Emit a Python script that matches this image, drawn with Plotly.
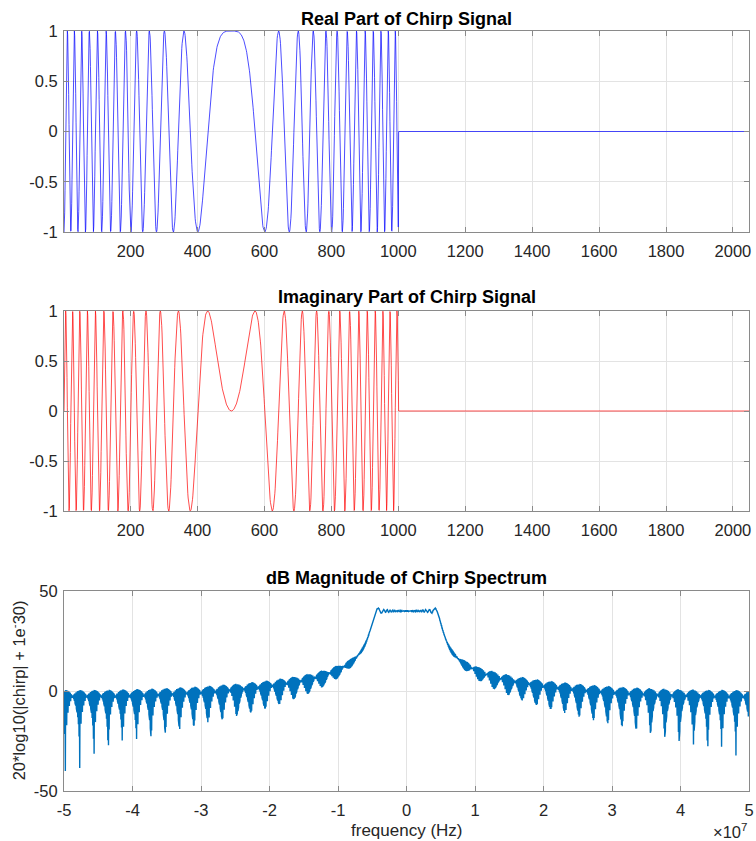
import numpy as np
import plotly.graph_objects as go

# ---- chirp parameters ----
FS = 1e8            # sample rate: frequency axis spans -5e7 .. 5e7 Hz
PULSE_SAMPLES = 1000  # signal is non-zero up to sample ~1000
FFT_LEN = 2048      # sample axis runs to 2048 (zero padded)
SWEEP_BW = 1e7      # spectrum plateau spans about -0.5e7 .. 0.5e7 Hz

# tick labels
sig_xticks = [200, 400, 600, 800, 1000, 1200, 1400, 1600, 1800, 2000]
sig_yticks = [-1, -0.5, 0, 0.5, 1]
sig_yticktext = ["-1", "-0.5", "0", "0.5", "1"]
freq_ticks_e7 = [-5, -4, -3, -2, -1, 0, 1, 2, 3, 4, 5]
freq_ticktext = ["-5", "-4", "-3", "-2", "-1", "0", "1", "2", "3", "4", "5"]
db_ticks = [-50, 0, 50]
db_ticktext = ["-50", "0", "50"]

titles = ["Real Part of Chirp Signal", "Imaginary Part of Chirp Signal",
          "dB Magnitude of Chirp Spectrum"]

# ---- signal (linear FM pulse, zero padded) ----
T = PULSE_SAMPLES / FS
mu = SWEEP_BW / T
n = np.arange(PULSE_SAMPLES)
t = (n - PULSE_SAMPLES / 2) / FS
pulse = np.exp(1j * np.pi * mu * t ** 2)
chirp = np.zeros(FFT_LEN, dtype=complex)
chirp[:PULSE_SAMPLES] = pulse
idx = np.arange(1, FFT_LEN + 1)

spec = np.fft.fftshift(np.fft.fft(chirp))
freq = (np.arange(FFT_LEN) - FFT_LEN / 2) * FS / FFT_LEN
spec_db = 20 * np.log10(np.abs(spec) + 1e-30)

FONT = "Liberation Sans, Arial, sans-serif"
TXT = "#262626"
AXC = "#8a8a8a"
GRID = "#e3e3e3"

fig = go.Figure()
fig.add_trace(go.Scatter(x=idx, y=chirp.real, mode="lines",
                         line=dict(color="#0000ff", width=0.7),
                         xaxis="x", yaxis="y", showlegend=False))
fig.add_trace(go.Scatter(x=idx, y=chirp.imag, mode="lines",
                         line=dict(color="#ff0000", width=0.7),
                         xaxis="x2", yaxis="y2", showlegend=False))
fig.add_trace(go.Scatter(x=freq, y=spec_db, mode="lines",
                         line=dict(color="#0072BD", width=1.4),
                         xaxis="x3", yaxis="y3", showlegend=False))

H = 841
MT, MB = 31, 50
PH = H - MT - MB


def py(px):
    return (H - MB - px) / PH


common = dict(showline=True, linecolor=AXC, linewidth=1, mirror="ticks",
              ticks="inside", ticklen=5, tickcolor=AXC, showgrid=True,
              gridcolor=GRID, gridwidth=1, zeroline=False,
              ticklabeloverflow="allow",
              tickfont=dict(family=FONT, size=16.5, color=TXT))

domains = [(py(232), 1.0), (py(511), py(311)), (0.0, py(591))]

layout = dict(
    width=756, height=H,
    margin=dict(l=64, r=2, t=MT, b=MB),
    paper_bgcolor="white", plot_bgcolor="white",
    font=dict(family=FONT, color=TXT),
)
for i, name in enumerate(["", "2", "3"]):
    xa = dict(common)
    ya = dict(common)
    xa["anchor"] = "y" + name
    ya["anchor"] = "x" + name
    ya["domain"] = list(domains[i])
    xa["domain"] = [0, 1]
    xa["ticklabelstandoff"] = 4
    ya["ticklabelstandoff"] = 2
    if i < 2:
        xa["range"] = [1, FFT_LEN]
        xa["tickvals"] = sig_xticks
        ya["range"] = [-1, 1]
        ya["tickvals"] = sig_yticks
        ya["ticktext"] = sig_yticktext
    else:
        xa["range"] = [-FS / 2, FS / 2]
        xa["tickvals"] = [v * 1e7 for v in freq_ticks_e7]
        xa["ticktext"] = freq_ticktext
        ya["range"] = [-50, 50]
        ya["tickvals"] = db_ticks
        ya["ticktext"] = db_ticktext
    layout["xaxis" + name] = xa
    layout["yaxis" + name] = ya

ann = []
for title, ypx in zip(titles, [19, 297, 578]):
    ann.append(dict(text="<b>" + title + "</b>", x=0.5, y=py(ypx),
                    xref="paper", yref="paper", showarrow=False,
                    xanchor="center", yanchor="middle",
                    font=dict(family=FONT, size=18, color="black")))
ann.append(dict(text="frequency (Hz)", x=0.5, y=py(830), xref="paper",
                yref="paper", showarrow=False, xanchor="center",
                yanchor="middle", font=dict(family=FONT, size=17, color=TXT)))
ann.append(dict(text="20*log10(|chirp| + 1e<sup>-</sup>30)", x=-64 / 690 + 18 / 690,
                y=py(690), xref="paper", yref="paper", showarrow=False,
                textangle=-90, xanchor="center", yanchor="middle",
                font=dict(family=FONT, size=16.5, color=TXT)))
ann.append(dict(text="\u00d710<sup>7</sup>", x=1.0, y=py(831), xref="paper",
                yref="paper", showarrow=False, xanchor="right",
                yanchor="middle", font=dict(family=FONT, size=16.5, color=TXT)))
layout["annotations"] = ann

fig.update_layout(**layout)
fig.write_html("out.html", config={"displayModeBar": False},
               post_script="document.body.style.margin='0';"
                           "document.body.style.overflow='hidden';")
